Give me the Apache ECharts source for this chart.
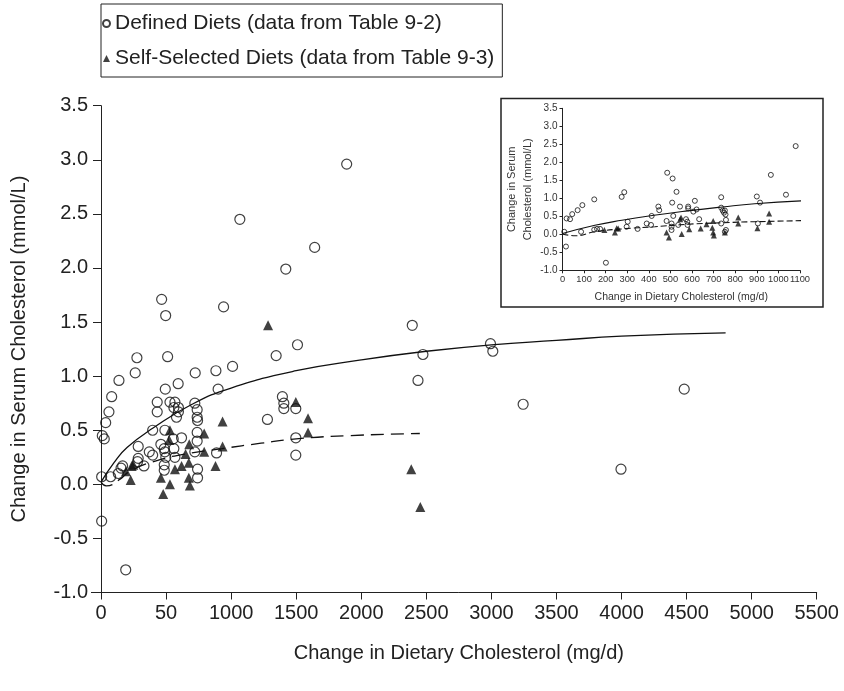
<!DOCTYPE html>
<html><head><meta charset="utf-8">
<script src="https://cdn.jsdelivr.net/npm/echarts@6/dist/echarts.min.js"></script>
<style>html,body{margin:0;padding:0;background:#fff}#c{width:844px;height:691px}</style>
</head><body><div id="c"></div>
<script>
// ---------- Main chart data ----------
const xTickLabels = ['0','50','1000','1500','2000','2500','3000','3500','4000','4500','5000','5500'];
const insetXTickLabels = ['0','100','200','300','400','500','600','700','800','900','1000','1100'];
const definedMain = [
  [5,0.07],[74,0.07],[5,-0.34],[190,-0.79],[10,0.45],[25,0.42],[36,0.57],[61,0.67],[82,0.81],[138,0.96],
  [263,1.03],[276,1.17],[466,1.71],[497,1.56],[512,1.18],[942,1.64],[1067,2.45],[1888,2.96],[1642,2.19],[1420,1.99],
  [1510,1.29],[1346,1.19],[724,1.03],[883,1.05],[1011,1.09],[900,0.88],[494,0.88],[593,0.93],[432,0.76],[530,0.76],
  [568,0.76],[432,0.67],[560,0.71],[595,0.71],[595,0.67],[580,0.62],[721,0.75],[739,0.69],[739,0.62],[742,0.59],
  [397,0.50],[491,0.50],[739,0.48],[739,0.40],[619,0.43],[555,0.42],[1394,0.81],[1405,0.75],[1405,0.70],[1497,0.70],
  [1279,0.60],[1497,0.43],[1497,0.27],[2392,1.47],[2474,1.20],[2436,0.96],[2993,1.30],[3011,1.23],[3244,0.74],[4482,0.88],
  [3996,0.14],[133,0.10],[154,0.15],[166,0.17],[286,0.35],[286,0.24],[281,0.21],[330,0.17],[371,0.30],[397,0.27],
  [460,0.37],[486,0.33],[491,0.30],[498,0.25],[486,0.18],[486,0.13],[560,0.33],[568,0.25],[721,0.30],[742,0.14],
  [742,0.06],[888,0.29]
];
const selfMain = [
  [1284,1.47],[228,0.04],[192,0.12],[236,0.17],[248,0.18],[530,0.50],[524,0.41],[460,0.06],[478,-0.09],[530,0.00],
  [568,0.14],[619,0.17],[650,0.28],[675,0.20],[678,0.37],[675,0.06],[683,-0.01],[793,0.47],[793,0.30],[880,0.17],
  [934,0.58],[934,0.35],[1497,0.76],[1591,0.61],[1591,0.48],[2384,0.14],[2454,-0.21]
];
const definedFitMain = [[0,0.02],[100,0.2],[200,0.34],[400,0.52],[700,0.74],[1000,0.89],[1500,1.05],[2000,1.15],[2500,1.23],[3000,1.29],[3500,1.33],[4000,1.37],[4800,1.40]];
const selfFitMain = [[0,0.02],[40,-0.015],[150,0.05],[220,0.12],[430,0.22],[650,0.28],[930,0.33],[1230,0.38],[1500,0.42],[1900,0.45],[2450,0.47]];

// ---------- Inset data ----------
const definedInset = [
  [8,0.07],[16,-0.34],[19,0.44],[35,0.42],[45,0.56],[70,0.67],[92,0.81],[86,0.07],[147,0.97],[147,0.13],
  [160,0.15],[174,0.15],[201,-0.79],[274,1.04],[286,1.17],[302,0.35],[297,0.21],[348,0.15],[390,0.30],[410,0.26],
  [413,0.51],[444,0.77],[448,0.67],[485,1.71],[510,1.55],[528,1.18],[508,0.88],[482,0.37],[505,0.30],[505,0.21],
  [505,0.12],[513,0.51],[536,0.26],[544,0.77],[572,0.42],[578,0.35],[579,0.26],[582,0.72],[582,0.77],[606,0.63],
  [613,0.93],[621,0.69],[633,0.42],[735,1.03],[735,0.74],[742,0.66],[748,0.60],[752,0.66],[755,0.55],[735,0.30],
  [757,0.40],[757,0.12],[752,0.07],[900,1.05],[915,0.88],[905,0.30],[965,1.65],[1035,1.10],[1080,2.45]
];
const selfInset = [
  [194,0.12],[243,0.05],[251,0.17],[258,0.16],[482,0.05],[493,-0.09],[549,0.47],[545,0.42],[552,0.01],[587,0.14],
  [640,0.16],[667,0.28],[698,0.37],[694,0.18],[698,0.05],[701,-0.03],[752,0.05],[814,0.47],[814,0.30],[903,0.17],
  [957,0.58],[957,0.35]
];
const definedFitInset = [[0,0.02],[150,0.25],[275,0.39],[415,0.52],[580,0.65],[740,0.76],[890,0.85],[1115,0.93]];
const selfFitInset = [[0,0.01],[58,-0.04],[150,0.07],[274,0.15],[428,0.21],[582,0.28],[737,0.32],[891,0.35],[1115,0.38]];

const NAME_DEF = 'Defined Diets (data from Table 9-2)';
const NAME_SELF = 'Self-Selected Diets (data from Table 9-3)';
const FONT = 'Liberation Sans, Arial, Helvetica, sans-serif';
const INK = '#222';

const chart = echarts.init(document.getElementById('c'), null, {renderer: 'canvas'});
chart.setOption({
  backgroundColor: '#fff',
  animation: false,
  textStyle: {fontFamily: FONT, color: INK},
  legend: {
    orient: 'vertical', left: 101, top: 4,
    padding: [9, 8, 8, 1], itemGap: 14, itemWidth: 7, itemHeight: 7,
    borderColor: INK, borderWidth: 1,
    textStyle: {fontSize: 21, color: INK, fontFamily: FONT},
    data: [{name: NAME_DEF, icon: 'circle'}, {name: NAME_SELF, icon: 'triangle'}],
    selectedMode: false
  },
  graphic: [
    {type: 'rect', z: 0, shape: {x: 501, y: 98.5, width: 322, height: 208.5}, style: {fill: 'none', stroke: INK, lineWidth: 1.5}},
    {type: 'line', shape: {x1: 91, y1: 592.5, x2: 101, y2: 592.5}, style: {stroke: INK, lineWidth: 1}}
  ],
  grid: [
    {left: 101, top: 105.7, right: 27.3, bottom: 98.5},
    {left: 562.5, top: 108.3, width: 237.5, height: 162, z: 5}
  ],
  xAxis: [
    {gridIndex: 0, type: 'value', min: 0, max: 5500, interval: 500,
     axisLine: {onZero: false, lineStyle: {color: INK, width: 1}}, axisTick: {length: 7, lineStyle: {color: INK}},
     splitLine: {show: false},
     axisLabel: {fontSize: 20, color: INK, margin: 11, fontFamily: FONT, showMaxLabel: true, formatter: v => xTickLabels[Math.round(v / 500)]},
     name: 'Change in Dietary Cholesterol (mg/d)', nameLocation: 'middle', nameGap: 51,
     nameTextStyle: {fontSize: 20, color: INK, fontFamily: FONT}},
    {gridIndex: 1, type: 'value', min: 0, max: 1100, interval: 100,
     axisLine: {onZero: false, lineStyle: {color: INK, width: 1}}, axisTick: {length: 3, lineStyle: {color: INK}},
     splitLine: {show: false},
     axisLabel: {fontSize: 9.3, color: '#333', margin: 5, fontFamily: FONT, showMaxLabel: true, showMinLabel: true, hideOverlap: false,
       formatter: v => insetXTickLabels[Math.round(v / 100)]},
     name: 'Change in Dietary Cholesterol (mg/d)', nameLocation: 'middle', nameGap: 21,
     nameTextStyle: {fontSize: 10.5, color: '#333', fontFamily: FONT}}
  ],
  yAxis: [
    {gridIndex: 0, type: 'value', min: -1, max: 3.5, interval: 0.5,
     axisLine: {show: true, onZero: false, lineStyle: {color: INK, width: 1}}, axisTick: {show: true, length: 8, lineStyle: {color: INK}},
     splitLine: {show: false},
     axisLabel: {fontSize: 20, color: INK, margin: 13, fontFamily: FONT, formatter: v => v.toFixed(1)},
     name: 'Change in Serum Cholesterol (mmol/L)', nameLocation: 'middle', nameGap: 72,
     nameTextStyle: {fontSize: 20, color: INK, fontFamily: FONT}},
    {gridIndex: 1, type: 'value', min: -1, max: 3.5, interval: 0.5,
     axisLine: {show: true, onZero: false, lineStyle: {color: INK, width: 1}}, axisTick: {show: true, length: 3, lineStyle: {color: INK}},
     splitLine: {show: false},
     axisLabel: {fontSize: 10, color: '#333', margin: 5, fontFamily: FONT, formatter: v => v.toFixed(1)},
     name: 'Change in Serum\nCholesterol (mmol/L)', nameLocation: 'middle', nameGap: 26,
     nameTextStyle: {fontSize: 11, lineHeight: 16, color: '#333', fontFamily: FONT}}
  ],
  series: [
    {name: NAME_DEF, type: 'scatter', xAxisIndex: 0, yAxisIndex: 0, data: definedMain,
     symbol: 'circle', symbolSize: 10, itemStyle: {color: 'rgba(0,0,0,0)', borderColor: '#111', borderWidth: 1.2}, z: 3},
    {name: NAME_SELF, type: 'scatter', xAxisIndex: 0, yAxisIndex: 0, data: selfMain,
     symbol: 'triangle', symbolSize: 10, itemStyle: {color: '#111'}, z: 3},
    {name: 'fitDefMain', type: 'line', xAxisIndex: 0, yAxisIndex: 0, data: definedFitMain, smooth: true,
     showSymbol: false, lineStyle: {color: '#111', width: 1.3}, z: 2},
    {name: 'fitSelfMain', type: 'line', xAxisIndex: 0, yAxisIndex: 0, data: selfFitMain, smooth: true,
     showSymbol: false, lineStyle: {color: '#111', width: 1.3, type: [13, 7]}, z: 2},
    {name: 'defInset', type: 'scatter', xAxisIndex: 1, yAxisIndex: 1, data: definedInset,
     symbol: 'circle', symbolSize: 5, itemStyle: {color: 'rgba(0,0,0,0)', borderColor: '#111', borderWidth: 1}, z: 6},
    {name: 'selfInset', type: 'scatter', xAxisIndex: 1, yAxisIndex: 1, data: selfInset,
     symbol: 'triangle', symbolSize: 6, itemStyle: {color: '#111'}, z: 6},
    {name: 'fitDefInset', type: 'line', xAxisIndex: 1, yAxisIndex: 1, data: definedFitInset, smooth: true, clip: false,
     showSymbol: false, lineStyle: {color: '#111', width: 1.1}, z: 5},
    {name: 'fitSelfInset', type: 'line', xAxisIndex: 1, yAxisIndex: 1, data: selfFitInset, smooth: true, clip: false,
     showSymbol: false, lineStyle: {color: '#111', width: 1.1, type: [6, 3]}, z: 5}
  ]
});
</script>
</body></html>
